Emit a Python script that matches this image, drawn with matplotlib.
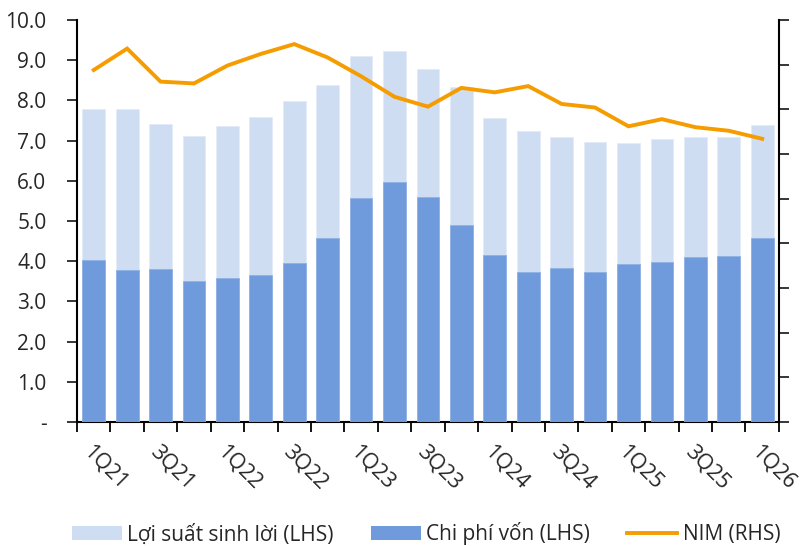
import matplotlib
matplotlib.use("Agg")
import matplotlib.pyplot as plt
from matplotlib.patches import Patch
from matplotlib.lines import Line2D
import numpy as np

plt.rcParams['font.family'] = ['Open Sans', 'DejaVu Sans']

# quarters 1Q21 .. 1Q26
quarters = ['1Q21', '2Q21', '3Q21', '4Q21', '1Q22', '2Q22', '3Q22', '4Q22',
            '1Q23', '2Q23', '3Q23', '4Q23', '1Q24', '2Q24', '3Q24', '4Q24',
            '1Q25', '2Q25', '3Q25', '4Q25', '1Q26']
yield_vals = [7.78, 7.79, 7.41, 7.12, 7.37, 7.59, 7.98, 8.39, 9.11, 9.23, 8.77,
              8.33, 7.56, 7.24, 7.09, 6.97, 6.93, 7.05, 7.08, 7.08, 7.38]
cost_vals = [4.03, 3.79, 3.81, 3.51, 3.58, 3.66, 3.96, 4.57, 5.58, 5.96, 5.60,
             4.90, 4.16, 3.73, 3.84, 3.74, 3.94, 3.98, 4.10, 4.13, 4.57]
nim_vals = [3.94, 4.18, 3.81, 3.79, 3.99, 4.12, 4.23, 4.08, 3.87, 3.64, 3.53,
            3.74, 3.69, 3.76, 3.56, 3.52, 3.31, 3.39, 3.30, 3.26, 3.17]

left_ticks = [0, 1, 2, 3, 4, 5, 6, 7, 8, 9, 10]
left_labels = ['-'] + ['%.1f' % v for v in left_ticks[1:]]
right_ticks = [0, 0.5, 1.0, 1.5, 2.0, 2.5, 3.0, 3.5, 4.0, 4.5]
right_labels = ['-'] + ['%.1f' % v for v in right_ticks[1:]]

c_light = '#cfddf2'
c_dark = '#6f9adb'
c_line = '#f59c00'
c_text = '#262626'

fig = plt.figure(figsize=(8.08, 5.46), dpi=100)
ax = fig.add_axes([0.0953, 0.2271, 0.8687, 0.7363])
x = np.arange(len(quarters))

ax.bar(x, yield_vals, width=0.68, color=c_light, edgecolor='#e3ebf8', linewidth=0.6, zorder=2)
ax.bar(x, cost_vals, width=0.68, color=c_dark, edgecolor='#8fb1e4', linewidth=0.6, zorder=3)

ax.set_xlim(-0.5, len(quarters) - 0.5)
ax.set_ylim(0, 10)
ax.set_yticks(left_ticks)
ax.set_yticklabels(left_labels)
ax.tick_params(axis='y', direction='out', length=7, width=1.3, labelsize=15, colors=c_text, pad=15)

# boundary ticks without labels, labels at every other quarter
ax.set_xticks(np.arange(-0.5, len(quarters), 1.0))
ax.set_xticklabels([])
ax.tick_params(axis='x', which='major', direction='out', length=7, width=1.3)
ax.set_xticks(x[::2], minor=True)
ax.set_xticklabels(quarters[::2], minor=True, rotation=-45, ha='left', va='top',
                   rotation_mode='anchor')
ax.tick_params(axis='x', which='minor', length=0, labelsize=15.5, colors=c_text, pad=14)

for s in ['top', 'right']:
    ax.spines[s].set_visible(False)
ax.spines['left'].set_linewidth(1.5)
ax.spines['bottom'].set_linewidth(1.5)

ax2 = ax.twinx()
ax2.plot(x, nim_vals, color=c_line, linewidth=2.8, solid_joinstyle='miter', zorder=4)
ax2.set_ylim(0, 4.5)
ax2.set_yticks(right_ticks)
ax2.set_yticklabels(right_labels)
ax2.tick_params(axis='y', direction='out', length=7, width=1.3, labelsize=15, colors=c_text, pad=14)
for s in ['top', 'left', 'bottom']:
    ax2.spines[s].set_visible(False)
ax2.spines['right'].set_linewidth(1.5)

handles = [Patch(facecolor=c_light, edgecolor='none'),
           Patch(facecolor=c_dark, edgecolor='none'),
           Line2D([0], [0], color=c_line, linewidth=2.8)]
labels = ['Lợi suất sinh lời (LHS)', 'Chi phí vốn (LHS)', 'NIM (RHS)']
fig.legend(handles, labels, loc='center', bbox_to_anchor=(0.527, 0.022), ncol=3,
           frameon=False, fontsize=15, handlelength=2.4, handleheight=0.67,
           handletextpad=0.25, columnspacing=1.8, labelcolor=c_text,
           borderpad=0, borderaxespad=0)

fig.savefig('out.png', dpi=100)
